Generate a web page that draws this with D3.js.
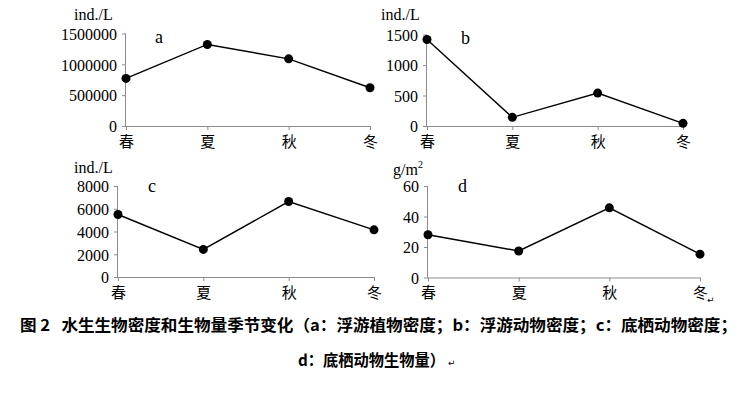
<!DOCTYPE html>
<html>
<head>
<meta charset="utf-8">
<script src="https://cdn.jsdelivr.net/npm/d3@7"></script>
<style>
  body { margin: 0; background: #fff; }
  svg text { fill: #000; }
  .serif { font-family: 'Liberation Serif', 'Times New Roman', Times, Tinos, 'Nimbus Roman', 'Nimbus Roman No9 L', FreeSerif, 'DejaVu Serif', 'Noto Serif', serif; }
</style>
</head>
<body>
<div id="chart"></div>
<script>
// data
var seasons = ['春', '夏', '秋', '冬'];
var phytoDensity = [772000, 1322000, 1089000, 620000];   // a
var zooDensity = [1418, 142, 540, 44];                    // b
var benthosDensity = [5494, 2427, 6633, 4145];           // c
var benthosBiomass = [28.0, 17.4, 45.7, 15.3];           // d
var ticksA = [0, 500000, 1000000, 1500000];
var ticksB = [0, 500, 1000, 1500];
var ticksC = [0, 2000, 4000, 6000, 8000];
var ticksD = [0, 20, 40, 60];
var captionLine1 = '图 2   水生生物密度和生物量季节变化（a：浮游植物密度；b：浮游动物密度；c：底栖动物密度；';
var captionLine2 = 'd：底栖动物生物量）';

var width = 745, height = 399;
var cjk = "'Noto Sans CJK SC', sans-serif";

var svg = d3.select('#chart').append('svg')
  .attr('width', width)
  .attr('height', height);

function DrawPanel(p) {
  var x = d3.scalePoint().domain(seasons).range([p.x0, p.x1]).padding(0);
  var y = d3.scaleLinear().domain([0, p.max]).range([p.y0, p.y1]);

  var g = svg.append('g');

  var yAxis = d3.axisLeft(y).tickValues(p.ticks).tickSize(4).tickPadding(5)
    .tickFormat(d3.format('d'));
  var ya = g.append('g')
    .attr('transform', 'translate(' + p.x0 + ',0)')
    .call(yAxis)
    .attr('font-family', null).attr('font-size', null);
  ya.select('.domain').attr('stroke', '#8c8c8c').attr('d', 'M-0.5,' + p.y0 + 'V' + p.y1);
  ya.selectAll('.tick line').attr('stroke', '#8c8c8c');
  ya.selectAll('.tick text')
    .attr('class', 'serif').style('font-size', '16px').attr('fill', '#000')
    .attr('dy', '0.36em');

  var xAxis = d3.axisBottom(x).tickSize(4).tickPadding(6);
  var xa = g.append('g')
    .attr('transform', 'translate(0,' + p.y0 + ')')
    .call(xAxis)
    .attr('font-family', null).attr('font-size', null);
  xa.select('.domain').attr('stroke', '#8c8c8c').attr('d', 'M' + p.x0 + ',0.5H' + p.x1);
  xa.selectAll('.tick line').attr('stroke', '#8c8c8c');
  xa.selectAll('.tick text')
    .style('font-family', cjk).style('font-size', '15px').attr('fill', '#000');

  var line = d3.line()
    .x(function(d, i) { return x(seasons[i]); })
    .y(function(d) { return y(d); });

  g.append('path')
    .datum(p.values)
    .attr('d', line)
    .attr('fill', 'none')
    .attr('stroke', '#000')
    .attr('stroke-width', 1.4);

  g.selectAll('circle.pt')
    .data(p.values)
    .enter().append('circle')
    .attr('class', 'pt')
    .attr('cx', function(d, i) { return x(seasons[i]); })
    .attr('cy', function(d) { return y(d); })
    .attr('r', 4.5)
    .attr('fill', '#000');

  // unit label
  var u = g.append('text')
    .attr('class', 'serif')
    .attr('x', p.unitX).attr('y', p.unitY)
    .style('font-size', '16px');
  if (p.unit === 'g/m2') {
    u.append('tspan').text('g/m');
    u.append('tspan').attr('dy', -7).style('font-size', '10px').text('2');
  } else {
    u.text(p.unit);
  }

  // panel letter
  g.append('text')
    .attr('class', 'serif')
    .attr('x', p.labX).attr('y', p.labY)
    .style('font-size', '18px')
    .text(p.letter);
}

DrawPanel({ values: phytoDensity, ticks: ticksA, max: 1500000, x0: 126, x1: 370, y0: 126, y1: 33.5,
  unit: 'ind./L', unitX: 74, unitY: 20, letter: 'a', labX: 155, labY: 43 });
DrawPanel({ values: zooDensity, ticks: ticksB, max: 1500, x0: 427, x1: 683, y0: 126, y1: 34.5,
  unit: 'ind./L', unitX: 381, unitY: 20, letter: 'b', labX: 461, labY: 44 });
DrawPanel({ values: benthosDensity, ticks: ticksC, max: 8000, x0: 118, x1: 374, y0: 277, y1: 186,
  unit: 'ind./L', unitX: 74, unitY: 173, letter: 'c', labX: 148, labY: 192 });
DrawPanel({ values: benthosBiomass, ticks: ticksD, max: 60, x0: 428, x1: 700, y0: 277.5, y1: 186,
  unit: 'g/m2', unitX: 393, unitY: 175, letter: 'd', labX: 458, labY: 192 });

// return marks
svg.append('text').attr('x', 707).attr('y', 303)
  .style('font-family', "'DejaVu Sans', sans-serif").style('font-size', '9px').attr('fill', '#999')
  .text('↵');

// caption
svg.append('text')
  .attr('x', 20).attr('y', 331)
  .attr('textLength', 717).attr('lengthAdjust', 'spacingAndGlyphs')
  .style('white-space', 'pre')
  .style('font-family', cjk).style('font-size', '16px').style('font-weight', 'bold')
  .text(captionLine1);
svg.append('text')
  .attr('x', 298).attr('y', 366)
  .attr('textLength', 147).attr('lengthAdjust', 'spacingAndGlyphs')
  .style('font-family', cjk).style('font-size', '16px').style('font-weight', 'bold')
  .text(captionLine2);
svg.append('text').attr('x', 448).attr('y', 366)
  .style('font-family', "'DejaVu Sans', sans-serif").style('font-size', '9px').attr('fill', '#999')
  .text('↵');
</script>
</body>
</html>
